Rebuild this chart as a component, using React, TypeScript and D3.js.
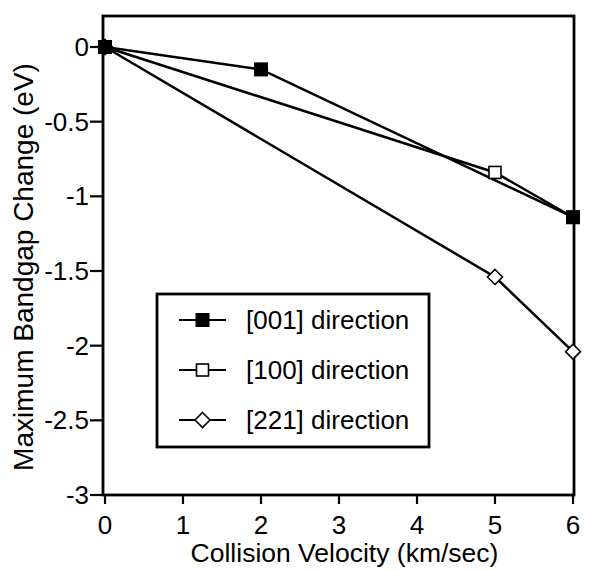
import React from "react";
import * as d3 from "d3";

const velocities001 = [0, 2, 6];
const bandgap001 = [0, -0.15, -1.14];
const velocities100 = [0, 5, 6];
const bandgap100 = [0, -0.84, -1.14];
const velocities221 = [0, 5, 6];
const bandgap221 = [0, -1.54, -2.04];

const xTicks = [0, 1, 2, 3, 4, 5, 6];
const yTicks = [0, -0.5, -1, -1.5, -2, -2.5, -3];
const seriesNames = ["[001] direction", "[100] direction", "[221] direction"];
const markerKinds = ["filledSquare", "openSquare", "diamond"];

const W = 589;
const H = 570;
const FONT = "'Liberation Sans', Arial, Helvetica, sans-serif";

function Marker({ kind, x, y }: { kind: string; x: number; y: number }) {
  if (kind === "filledSquare") {
    return <rect x={x - 7} y={y - 7} width={14} height={14} fill="#000" />;
  }
  if (kind === "openSquare") {
    return (
      <rect x={x - 6} y={y - 6} width={12} height={12} fill="#fff" stroke="#000" strokeWidth={1.6} />
    );
  }
  const r = 7.5;
  return (
    <path
      d={`M${x},${y - r}L${x + r},${y}L${x},${y + r}L${x - r},${y}Z`}
      fill="#fff"
      stroke="#000"
      strokeWidth={1.6}
    />
  );
}

export default function App() {
  const left = 103;
  const right = 574;
  const top = 16;
  const bottom = 495;

  const x = d3.scaleLinear().domain([0, 6]).range([105, 573]);
  const y = d3.scaleLinear().domain([0, -3]).range([47, 495]);

  const series = [
    { xs: velocities001, ys: bandgap001 },
    { xs: velocities100, ys: bandgap100 },
    { xs: velocities221, ys: bandgap221 },
  ].map((s, i) => ({
    name: seriesNames[i],
    kind: markerKinds[i],
    pts: s.xs.map((v, j) => [v, s.ys[j]] as [number, number]),
  }));

  const line = d3
    .line<[number, number]>()
    .x((d) => x(d[0]))
    .y((d) => y(d[1]));

  const legend = { x: 157, y: 294, w: 272, h: 153 };

  return (
    <svg
      width={W}
      height={H}
      style={{ position: "absolute", left: 0, top: 0, background: "#fff" }}
      fontFamily={FONT}
    >
      <rect x={0} y={0} width={W} height={H} fill="#fff" />
      {/* data lines */}
      {series.map((s) => (
        <path key={s.name} d={line(s.pts) || ""} fill="none" stroke="#000" strokeWidth={2.5} />
      ))}
      {/* frame */}
      <rect x={left} y={top} width={right - left} height={bottom - top} fill="none" stroke="#000" strokeWidth={2.8} />
      {/* markers, drawn in reverse so the first series sits on top */}
      {[...series].reverse().map((s) =>
        s.pts.map((p, j) => <Marker key={s.name + j} kind={s.kind} x={x(p[0])} y={y(p[1])} />)
      )}
      {/* x axis */}
      {xTicks.map((t) => (
        <g key={"x" + t}>
          <line x1={x(t)} x2={x(t)} y1={bottom} y2={bottom + 9} stroke="#000" strokeWidth={2.2} />
          <text x={x(t)} y={534} textAnchor="middle" fontSize={26}>
            {t}
          </text>
        </g>
      ))}
      <text x={(left + right) / 2 + 6} y={562} textAnchor="middle" fontSize={26.5}>
        Collision Velocity (km/sec)
      </text>
      {/* y axis */}
      {yTicks.map((t) => (
        <g key={"y" + t}>
          <line x1={left - 13} x2={left} y1={y(t)} y2={y(t)} stroke="#000" strokeWidth={2.2} />
          <text x={left - 14} y={y(t) + 9} textAnchor="end" fontSize={26}>
            {t === 0 ? "0" : String(t)}
          </text>
        </g>
      ))}
      <text
        transform={`translate(33, 267) rotate(-90)`}
        textAnchor="middle"
        fontSize={28}
      >
        Maximum Bandgap Change (eV)
      </text>
      {/* legend */}
      <rect x={legend.x} y={legend.y} width={legend.w} height={legend.h} fill="#fff" stroke="#000" strokeWidth={2.8} />
      {series.map((s, i) => {
        const cy = legend.y + 26 + i * 50;
        return (
          <g key={"lg" + i}>
            <line x1={179} x2={226} y1={cy} y2={cy} stroke="#000" strokeWidth={2.2} />
            <Marker kind={s.kind} x={202.5} y={cy} />
            <text x={246} y={cy + 9} fontSize={26}>
              {s.name}
            </text>
          </g>
        );
      })}
    </svg>
  );
}
